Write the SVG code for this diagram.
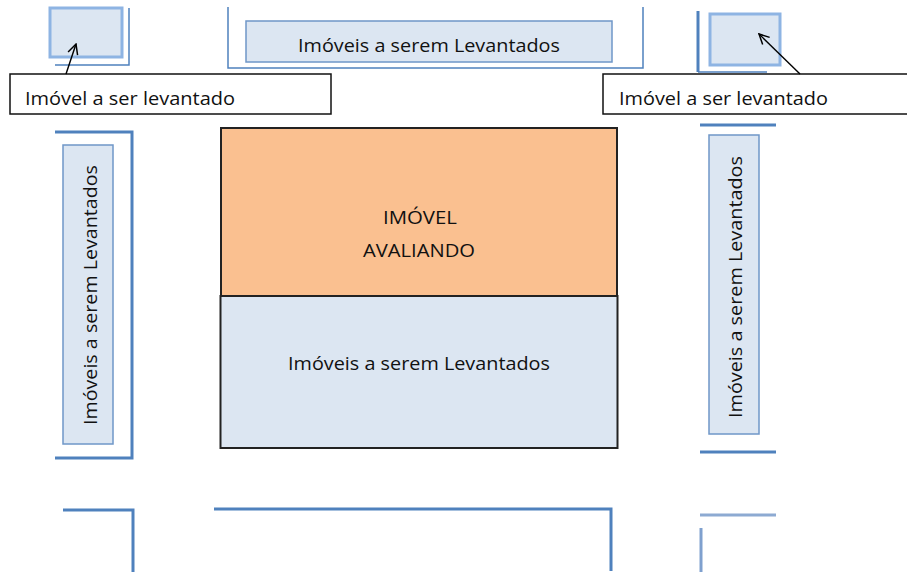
<svg xmlns="http://www.w3.org/2000/svg" width="907" height="572" viewBox="0 0 907 572">
<defs>
<style>
.t{font-family:"Open Sans","Liberation Sans",sans-serif;font-size:18px;fill:#111}
.lot{fill:#DCE6F2;stroke:#6F97C8;stroke-width:1.5}
.sq{fill:#DCE6F2;stroke:#8EB4E3;stroke-width:3}
.rd{fill:none;stroke:#4F81BD;stroke-width:1.5}
.rd2{fill:none;stroke:#4F81BD;stroke-width:3}
.lbl{fill:#fff;stroke:#111;stroke-width:1.5}
.arr{fill:none;stroke:#000;stroke-width:1.4}
</style>
<marker id="ah" viewBox="0 0 12 12" refX="11" refY="6" markerWidth="12" markerHeight="12" markerUnits="userSpaceOnUse" orient="auto">
<path d="M1,1 L11,6 L1,11" fill="none" stroke="#000" stroke-width="1.5"/>
</marker>
</defs>
<rect width="907" height="572" fill="#fff"/>

<g id="streets">
<path class="rd" d="M129,8 V65 H55"/>
<path class="rd" d="M228,7 V68 H643 V7"/>
<path class="rd2" d="M698,11 V72"/>
<path class="rd" d="M698,72 H767" stroke-width="2.5"/>
<path class="rd2" d="M55,132 H132 V458 H55"/>
<path class="rd2" d="M700,125 H776" stroke-width="2.5"/>
<path class="rd2" d="M700,452 H776"/>
<path class="rd2" d="M63,510 H133 V572"/>
<path class="rd2" d="M214,509 H611 V571"/>
<path d="M700,515 H776" stroke="#8DAAD2" stroke-width="3" fill="none"/>
<path d="M701,528 V572" stroke="#7FA0CE" stroke-width="3" fill="none"/>
</g>

<g id="lot-top-left">
<rect class="sq" x="50" y="8" width="72" height="49"/>
</g>
<g id="lot-top-right">
<rect class="sq" x="710" y="14" width="70" height="51"/>
</g>

<g id="lots-top">
<rect class="lot" x="246" y="21" width="366" height="41"/>
<text class="t" x="429" y="52" text-anchor="middle" textLength="262" lengthAdjust="spacingAndGlyphs">Imóveis a serem Levantados</text>
</g>

<g id="lots-left">
<rect class="lot" x="63" y="145" width="50" height="299"/>
<text class="t" transform="translate(97,295) rotate(-90)" text-anchor="middle" textLength="260" lengthAdjust="spacingAndGlyphs">Imóveis a serem Levantados</text>
</g>

<g id="lots-right">
<rect class="lot" x="709" y="135" width="50" height="299"/>
<text class="t" transform="translate(742,287) rotate(-90)" text-anchor="middle" textLength="262" lengthAdjust="spacingAndGlyphs">Imóveis a serem Levantados</text>
</g>

<g id="lots-center">
<rect x="220.5" y="296" width="397" height="152" fill="#DCE6F2" stroke="#222" stroke-width="2"/>
<text class="t" x="419" y="370" text-anchor="middle" textLength="262" lengthAdjust="spacingAndGlyphs">Imóveis a serem Levantados</text>
</g>

<g id="subject">
<rect x="221" y="128" width="396" height="168" fill="#FAC090" stroke="#222" stroke-width="2"/>
<text class="t" x="420" y="224" text-anchor="middle" textLength="74" lengthAdjust="spacingAndGlyphs">IMÓVEL</text>
<text class="t" x="419" y="257" text-anchor="middle" textLength="112" lengthAdjust="spacingAndGlyphs">AVALIANDO</text>
</g>

<g id="label-left">
<rect class="lbl" x="10" y="74" width="321" height="40"/>
<text class="t" x="25" y="105" textLength="210" lengthAdjust="spacingAndGlyphs">Imóvel a ser levantado</text>
</g>
<g id="label-right">
<rect class="lbl" x="603" y="74" width="310" height="40"/>
<text class="t" x="619" y="105" textLength="209" lengthAdjust="spacingAndGlyphs">Imóvel a ser levantado</text>
</g>

<g id="connectors">
<line class="arr" x1="66" y1="74" x2="76" y2="44" marker-end="url(#ah)"/>
<line class="arr" x1="800" y1="74" x2="759" y2="34" marker-end="url(#ah)"/>
</g>
</svg>
